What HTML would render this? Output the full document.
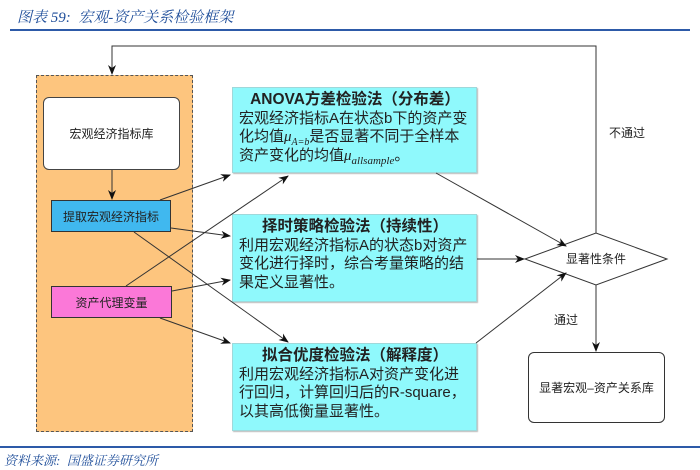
<!DOCTYPE html>
<html><head><meta charset="utf-8"><style>
body{margin:0;width:700px;height:470px;background:#fff;position:relative;overflow:hidden;font-family:"Liberation Sans","Noto Sans CJK SC",sans-serif;}
.a{position:absolute;box-sizing:border-box;}
.t{font-style:italic;color:#1f4e9a;font-family:"Liberation Serif","Noto Serif CJK SC",serif;}
.cy{background:#8ff9fc;border:1px solid #9fd8da;box-shadow:1px 1px 1px #bbb;color:#222;font-size:15px;line-height:18.5px;padding:3px 5px 0 6px;}
.cy b{display:block;text-align:center;font-size:15.5px;}
.cy sub{line-height:0;}
.sm{font-size:12px;color:#222;display:flex;align-items:center;justify-content:center;}
</style></head><body>
<div class="a t" style="left:17px;top:6px;font-size:15px;">图表 59:&nbsp; 宏观-资产关系检验框架</div>
<div class="a" style="left:10px;top:29px;width:680px;height:2px;background:#2d5aa8"></div>
<div class="a" style="left:0;top:446px;width:700px;height:2px;background:#2d5aa8"></div>
<div class="a t" style="left:4px;top:450px;font-size:13px;">资料来源:&nbsp; 国盛证券研究所</div>

<div class="a" style="left:36px;top:75px;width:157px;height:357px;background:#fdc57e;border:1.5px dashed #555"></div>
<div class="a sm" style="left:43px;top:97px;width:137px;height:73px;background:#fff;border:1px solid #444;border-radius:6px">宏观经济指标库</div>
<div class="a sm" style="left:51px;top:200px;width:120px;height:32px;background:#40b8ef;border:1px solid #333">提取宏观经济指标</div>
<div class="a sm" style="left:51px;top:286px;width:121px;height:32px;background:#fb78d8;border:1px solid #333">资产代理变量</div>

<div class="a cy" style="left:232px;top:87px;width:245px;height:86px"><b>ANOVA方差检验法（分布差）</b>宏观经济指标A在状态b下的资产变化均值<i style="font-family:'Liberation Serif',serif">μ<sub style="font-size:10px">A=b</sub></i>是否显著不同于全样本<br>资产变化的均值<i style="font-family:'Liberation Serif',serif">μ<sub style="font-size:11px">allsample</sub></i>。</div>
<div class="a cy" style="left:232px;top:214px;width:245px;height:88px"><b>择时策略检验法（持续性）</b>利用宏观经济指标A的状态b对资产<br>变化进行择时，综合考量策略的结<br>果定义显著性。</div>
<div class="a cy" style="left:232px;top:343px;width:245px;height:88px"><b>拟合优度检验法（解释度）</b>利用宏观经济指标A对资产变化进<br>行回归，计算回归后的R-square，<br>以其高低衡量显著性。</div>

<div class="a sm" style="left:528px;top:352px;width:137px;height:71px;background:#fff;border:1px solid #333;border-radius:6px">显著宏观–资产关系库</div>

<svg class="a" style="left:0;top:0" width="700" height="470">
<defs><marker id="m" markerWidth="10" markerHeight="8" refX="9" refY="4" orient="auto" markerUnits="userSpaceOnUse"><path d="M0,0 L10,4 L0,8 L3,4z" fill="#111"/></marker></defs>
<g stroke="#333" stroke-width="1" fill="none">
<polygon points="525,259 596,233 667,259 596,285" fill="#fff"/>
<polyline points="596,233 596,46 112,46 112,74" marker-end="url(#m)"/>
<line x1="112" y1="170" x2="112" y2="199" marker-end="url(#m)"/>
<line x1="160" y1="200" x2="230" y2="175" marker-end="url(#m)"/>
<line x1="171" y1="228" x2="230" y2="236" marker-end="url(#m)"/>
<line x1="134" y1="232" x2="288" y2="342" marker-end="url(#m)"/>
<line x1="126" y1="286" x2="288" y2="176" marker-end="url(#m)"/>
<line x1="172" y1="291" x2="230" y2="280" marker-end="url(#m)"/>
<line x1="160" y1="318" x2="230" y2="343" marker-end="url(#m)"/>
<line x1="436" y1="173" x2="566" y2="246" marker-end="url(#m)"/>
<line x1="477" y1="259" x2="524" y2="259" marker-end="url(#m)"/>
<line x1="476" y1="343" x2="566" y2="273" marker-end="url(#m)"/>
<line x1="596" y1="285" x2="596" y2="351" marker-end="url(#m)"/>
</g>
<g font-size="12" fill="#222" font-family="Liberation Sans,Noto Sans CJK SC,sans-serif">
<text x="596" y="263" text-anchor="middle">显著性条件</text>
<text x="609" y="137">不通过</text>
<text x="554" y="324">通过</text>
</g>
</svg>
</body></html>
